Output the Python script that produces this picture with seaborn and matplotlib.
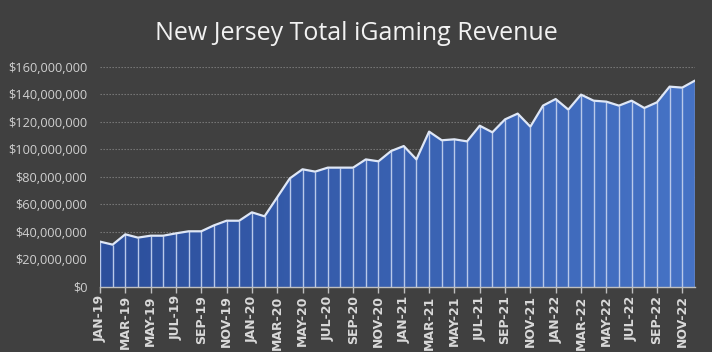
import numpy as np
import pandas as pd
import matplotlib
matplotlib.use("Agg")
import matplotlib.pyplot as plt
import seaborn as sns
from matplotlib.colors import LinearSegmentedColormap
from matplotlib.ticker import FuncFormatter

months = ["JAN", "FEB", "MAR", "APR", "MAY", "JUN", "JUL", "AUG", "SEP", "OCT", "NOV", "DEC"]
years = ["19", "20", "21", "22"]
labels = [f"{m}-{y}" for y in years for m in months]

revenue_m = [
    33.0, 30.8, 38.3, 35.9, 37.3, 37.3, 39.0, 40.5, 40.5, 44.8, 48.2, 48.2,
    54.3, 51.4, 65.2, 79.0, 85.6, 83.9, 86.8, 86.8, 86.8, 92.8, 91.4, 98.9,
    102.5, 92.8, 113.0, 106.7, 107.4, 105.9, 117.3, 112.5, 121.9, 126.1, 116.6, 131.9,
    136.7, 129.0, 139.9, 135.5, 134.8, 131.9, 135.5, 130.2, 134.3, 145.7, 145.0, 150.1,
]

df = pd.DataFrame({"idx": np.arange(len(labels)), "label": labels,
                   "revenue": np.array(revenue_m) * 1e6})

bg = "#404040"
sns.set_theme(style="dark")
plt.rcParams["font.family"] = ["Open Sans", "DejaVu Sans"]

fig = plt.figure(figsize=(7.12, 3.52), dpi=100, facecolor=bg)
ax = fig.add_axes([0.1404, 0.1847, 0.976 - 0.1404, 0.8097 - 0.1847])
ax.set_facecolor(bg)

x = df["idx"].to_numpy()
y = df["revenue"].to_numpy()

# gradient filled area
poly = ax.fill_between(x, 0, y, color="none", lw=0, zorder=1)
cmap = LinearSegmentedColormap.from_list("g", ["#2c4f9c", "#4673c6"])
grad = np.linspace(0, 1, 256).reshape(1, -1)
im = ax.imshow(grad, cmap=cmap, aspect="auto", extent=[0, len(x) - 1, 0, 160e6],
               origin="lower", zorder=1)
im.set_clip_path(poly.get_paths()[0], transform=ax.transData)

# vertical separators
ax.vlines(x, 0, y, colors="#b9c9ea", lw=1.0, zorder=2)

# top line
sns.lineplot(data=df, x="idx", y="revenue", ax=ax, color="#dfe7f6", lw=1.6, zorder=3)

ax.set_xlim(0, len(x) - 1)
ax.set_ylim(0, 160e6)
ax.set_yticks(np.arange(0, 160e6 + 1, 20e6))
ax.yaxis.set_major_formatter(FuncFormatter(lambda v, p: f"${v:,.0f}"))
ax.grid(axis="y", color="#7f7f7f", linestyle=(0, (1.2, 1.5)), lw=0.8, zorder=0)
ax.grid(axis="x", visible=False)
ax.set_xticks(x[::2])
ax.set_xticklabels(df["label"][::2], rotation=90, fontsize=9, fontweight="bold",
                   color="#d9d9d9", family=["DejaVu Sans"])
ax.tick_params(axis="x", which="major", length=4, color="#bfbfbf", width=1, pad=2, bottom=True)
ax.tick_params(axis="y", length=0, labelsize=9.2, labelcolor="#d0d0d0", pad=9)
for s in ["top", "right", "left"]:
    ax.spines[s].set_visible(False)
ax.spines["bottom"].set_color("#bfbfbf")
ax.spines["bottom"].set_linewidth(1)
ax.spines["bottom"].set_zorder(4)
ax.set_xlabel("")
ax.set_ylabel("")

fig.text(0.5, 0.905, "New Jersey Total iGaming Revenue", ha="center", va="center",
         fontsize=18, color="#f2f2f2")

fig.savefig("out.png", dpi=100, facecolor=bg)
